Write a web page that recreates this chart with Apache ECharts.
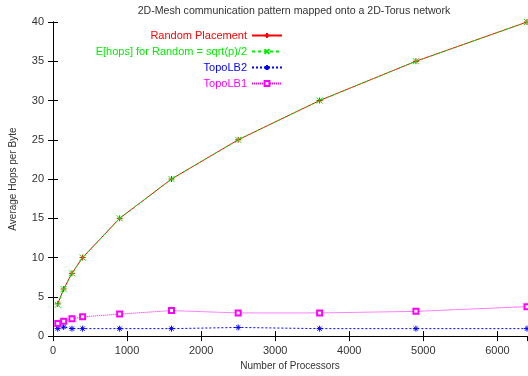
<!DOCTYPE html>
<html><head><meta charset="utf-8">
<script src="https://cdn.jsdelivr.net/npm/echarts@6/dist/echarts.min.js"></script>
<style>html,body{margin:0;padding:0;background:#fff}#c{width:528px;height:376px}</style>
</head><body><div id="c"></div>
<script>
const processors = [64, 144, 256, 400, 900, 1600, 2500, 3600, 4900, 6400];
const randomPlacement = [4.1, 6.0, 8.0, 10.0, 15.0, 20.0, 25.0, 30.0, 35.0, 40.0];
const randomExpected = [4.0, 6.0, 8.0, 10.0, 15.0, 20.0, 25.0, 30.0, 35.0, 40.0];
const topoLB2 = [0.95, 1.15, 0.95, 0.95, 0.95, 0.95, 1.1, 0.95, 0.95, 0.95];
const topoLB1 = [1.6, 1.9, 2.2, 2.45, 2.8, 3.25, 2.95, 2.95, 3.15, 3.75];
const seriesNames = ['Random Placement', 'E[hops] for Random = sqrt(p)/2', 'TopoLB2', 'TopoLB1'];
const seriesColors = ['#ff0000', '#00ee00', '#0000ff', '#ff00ff'];
const xTicks = [0, 1000, 2000, 3000, 4000, 5000, 6000];
const yTicks = [0, 5, 10, 15, 20, 25, 30, 35, 40];

const pts = v => processors.map((p, i) => [p, v[i]]);
const plusSym = 'path://M0,5L10,5M5,0L5,10';
const crossSym = 'path://M0,0L10,10M10,0L0,10';
const starSym = 'path://M0,5L10,5M5,0L5,10M1.5,1.5L8.5,8.5M8.5,1.5L1.5,8.5';

const chart = echarts.init(document.getElementById('c'));
const axisCommon = {
  axisLine: {show: true, lineStyle: {color: '#000', width: 1}},
  axisTick: {show: true, inside: true, length: 5, lineStyle: {color: '#000'}},
  splitLine: {show: false}
};
const ff = 'Liberation Sans, Arial, sans-serif';
chart.setOption({
  animation: false,
  textStyle: {fontFamily: ff},
  title: {text: '2D-Mesh communication pattern mapped onto a 2D-Torus network', left: 289, textAlign: 'center', top: 1,
    textStyle: {fontSize: 10.6, fontWeight: 'normal', color: '#333', fontFamily: ff}},
  grid: {left: 50, right: 1, top: 22, bottom: 39, show: false},
  legend: {
    orient: 'vertical', right: 245, top: 30, align: 'right', padding: 0, itemGap: 5,
    itemWidth: 30, itemHeight: 6,
    data: seriesNames.map((n, i) => ({name: n, textStyle: {color: seriesColors[i]}})),
    textStyle: {fontSize: 11, fontFamily: ff}
  },
  xAxis: [
    Object.assign({type: 'value', min: 0, max: 6400, interval: 1000, name: 'Number of Processors',
      nameLocation: 'middle', nameGap: 22, nameTextStyle: {fontSize: 10, color: '#333'},
      axisLabel: {fontSize: 11, color: '#333', showMaxLabel: false, margin: 9,
        formatter: v => xTicks.includes(v) ? String(v) : ''}}, axisCommon),
    Object.assign({type: 'value', position: 'top', min: 0, max: 6400, interval: 1000,
      axisLabel: {show: false}}, axisCommon)
  ],
  yAxis: [
    Object.assign({type: 'value', min: 0, max: 40, interval: 5, name: 'Average Hops per Byte',
      nameLocation: 'middle', nameGap: 35, nameTextStyle: {fontSize: 10, color: '#333'},
      axisLabel: {fontSize: 11, color: '#333', margin: 9,
        formatter: v => yTicks.includes(v) ? String(v) : ''}}, axisCommon),
    Object.assign({type: 'value', position: 'right', min: 0, max: 40, interval: 5,
      axisLabel: {show: false}}, axisCommon)
  ],
  series: [
    {name: seriesNames[0], type: 'line', data: pts(randomPlacement), symbol: plusSym, symbolSize: 6,
      lineStyle: {color: seriesColors[0], width: 1}, itemStyle: {color: seriesColors[0], borderColor: seriesColors[0], borderWidth: 1}},
    {name: seriesNames[1], type: 'line', data: pts(randomExpected), symbol: crossSym, symbolSize: 6,
      lineStyle: {color: seriesColors[1], width: 1, type: [3, 3]}, itemStyle: {color: seriesColors[1], borderColor: seriesColors[1], borderWidth: 1}},
    {name: seriesNames[2], type: 'line', data: pts(topoLB2), symbol: starSym, symbolSize: 6,
      lineStyle: {color: seriesColors[2], width: 1, type: [2, 2]}, itemStyle: {color: seriesColors[2], borderColor: seriesColors[2], borderWidth: 1}},
    {name: seriesNames[3], type: 'line', data: pts(topoLB1), symbol: 'emptyRect', symbolSize: 5,
      lineStyle: {color: seriesColors[3], width: 1, type: [1, 1]}, itemStyle: {color: seriesColors[3], borderColor: seriesColors[3], borderWidth: 1}}
  ]
});
</script></body></html>
